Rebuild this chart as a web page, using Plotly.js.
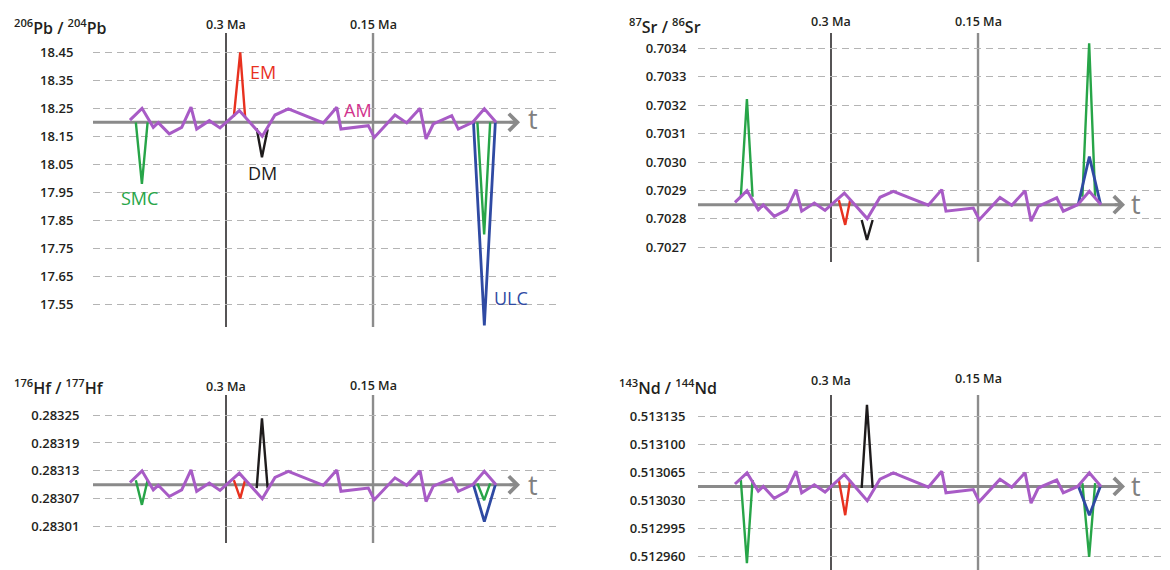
<!DOCTYPE html>
<html><head><meta charset="utf-8">
<script src="https://cdn.plot.ly/plotly-3.0.1.min.js"></script>
<style>html,body{margin:0;padding:0;background:#fff}#chart{width:1170px;height:570px}</style>
</head><body><div id="chart"></div>
<script>
// ---------- DATA ----------
// time (Ma) of the AM (ambient mantle) vertices, shared by all panels
const tAM = [0.3980,0.3857,0.3742,0.3691,0.3579,0.3452,0.3357,0.3299,0.3170,0.3061,0.2864,0.2630,0.2500,0.2364,0.2007,0.1870,0.1827,0.1548,0.1487,0.1276,0.1156,0.1020,0.0959,0.0885,0.0697,0.0630,0.0483,0.0364,0.0245];
const pbAM = [18.208,18.250,18.182,18.199,18.159,18.182,18.254,18.176,18.206,18.180,18.242,18.150,18.226,18.248,18.198,18.254,18.176,18.188,18.146,18.226,18.198,18.250,18.141,18.194,18.224,18.176,18.200,18.248,18.200];
const srAM = [0.702858,0.702899,0.702832,0.702849,0.702809,0.702832,0.702903,0.702827,0.702856,0.702830,0.702891,0.702801,0.702876,0.702897,0.702848,0.702903,0.702827,0.702838,0.702797,0.702875,0.702848,0.702899,0.702792,0.702844,0.702874,0.702827,0.702850,0.702897,0.702850];
const hfAM = [0.283105,0.283130,0.283089,0.283099,0.283075,0.283089,0.283132,0.283086,0.283104,0.283088,0.283125,0.283070,0.283116,0.283129,0.283099,0.283132,0.283086,0.283093,0.283068,0.283115,0.283099,0.283130,0.283064,0.283097,0.283114,0.283086,0.283100,0.283129,0.283100];
const ndAM = [0.513050,0.513064,0.513041,0.513047,0.513032,0.513041,0.513066,0.513039,0.513049,0.513040,0.513062,0.513029,0.513056,0.513064,0.513046,0.513066,0.513039,0.513043,0.513028,0.513056,0.513046,0.513064,0.513026,0.513045,0.513055,0.513039,0.513047,0.513064,0.513047];

// time (Ma) of the end-member excursions (start, tip, end)
const tSMC  = [0.3920,0.3858,0.3800];
const tEM   = [0.2920,0.2855,0.2805];
const tDM   = [0.2687,0.2633,0.2575];
const tULCg = [0.0435,0.0366,0.0305];
const tULCb = [0.0475,0.0364,0.0252];

// 206Pb/204Pb excursions
const pbSMC  = [18.200,17.980,18.200];
const pbEM   = [18.220,18.450,18.220];
const pbDM   = [18.178,18.075,18.175];
const pbULCg = [18.200,17.800,18.200];
const pbULCb = [18.200,17.475,18.200];
// 87Sr/86Sr excursions
const srSMC  = [0.702878,0.703221,0.702878];
const srEM   = [0.702866,0.702779,0.702866];
const srDM   = [0.702796,0.702726,0.702796];
const srULCg = [0.702878,0.703418,0.702878];
const srULCb = [0.702855,0.703019,0.702855];
// 176Hf/177Hf excursions
const hfSMC  = [0.283110,0.283057,0.283110];
const hfEM   = [0.283110,0.283071,0.283110];
const hfDM   = [0.283093,0.283243,0.283093];
const hfULCg = [0.283103,0.283067,0.283103];
const hfULCb = [0.283100,0.283021,0.283100];
// 143Nd/144Nd excursions
const ndSMC  = [0.513055,0.512951,0.513055];
const ndEM   = [0.513055,0.513011,0.513055];
const ndDM   = [0.513045,0.513149,0.513045];
const ndULCg = [0.513051,0.512959,0.513051];
const ndULCb = [0.513047,0.513011,0.513047];

// reference (time-axis) level in each panel
const baseLevels = [18.20, 0.70285, 0.28310, 0.513047];

// tick values / labels
const pbTicks = [17.55,17.65,17.75,17.85,17.95,18.05,18.15,18.25,18.35,18.45];
const pbTickText = ['17.55','17.65','17.75','17.85','17.95','18.05','18.15','18.25','18.35','18.45'];
const srTicks = [0.7027,0.7028,0.7029,0.7030,0.7031,0.7032,0.7033,0.7034];
const srTickText = ['0.7027','0.7028','0.7029','0.7030','0.7031','0.7032','0.7033','0.7034'];
const hfTicks = [0.28301,0.28307,0.28313,0.28319,0.28325];
const hfTickText = ['0.28301','0.28307','0.28313','0.28319','0.28325'];
const ndTicks = [0.512960,0.512995,0.513030,0.513065,0.513100,0.513135];
const ndTickText = ['0.512960','0.512995','0.513030','0.513065','0.513100','0.513135'];

// time markers
const markTimes = [0.3, 0.15];
const markLabels = ['0.3 Ma', '0.15 Ma'];
const titles = ['<sup>206</sup>Pb / <sup>204</sup>Pb', '<sup>87</sup>Sr / <sup>86</sup>Sr',
                '<sup>176</sup>Hf / <sup>177</sup>Hf', '<sup>143</sup>Nd / <sup>144</sup>Nd'];
const memberNames = ['SMC','EM','DM','AM','ULC'];

// ---------- STYLE / LAYOUT ----------
const W = 1170, H = 570;
const px = p => p / W, py = p => 1 - p / H;
const FONT = 'Open Sans, Noto Sans, sans-serif';
const C = {green:'#27a548', red:'#e8311f', black:'#1e1b1c', blue:'#2f4aa3', purple:'#a85bc6',
           amText:'#d2338d', grey:'#8a8a8a', grid:'#b4b4b4', text:'#231f20'};
const xRange = [0.4357, -0.0367];

const panels = [
  {ax:'', xDom:[93,556],  yDom:[33,327],  yRange:[17.469,18.519],   am:pbAM, sp:[pbSMC,pbEM,pbDM,pbULCg,pbULCb], tv:pbTicks, tt:pbTickText, tl:16,
   titlePos:[12,27], markY:[24,24], tPos:[533,119]},
  {ax:'2', xDom:[698,1161], yDom:[33,262], yRange:[0.7026484,0.7034538], am:srAM, sp:[srSMC,srEM,srDM,srULCg,srULCb], tv:srTicks, tt:srTickText, tl:8,
   titlePos:[627,26], markY:[21,21], tPos:[1136,203]},
  {ax:'3', xDom:[93,556],  yDom:[395,543], yRange:[0.282975,0.283293], am:hfAM, sp:[hfSMC,hfEM,hfDM,hfULCg,hfULCb], tv:hfTicks, tt:hfTickText, tl:10,
   titlePos:[12,387], markY:[386,385], tPos:[533,484]},
  {ax:'4', xDom:[698,1161], yDom:[395,570], yRange:[0.5129425,0.51316125], am:ndAM, sp:[ndSMC,ndEM,ndDM,ndULCg,ndULCb], tv:ndTicks, tt:ndTickText, tl:9,
   titlePos:[617,387], markY:[380,378], tPos:[1136,485]}
];

const data = [], shapes = [], annotations = [];
const layout = {width:W, height:H, margin:{l:0,r:0,t:0,b:0}, paper_bgcolor:'#fff', plot_bgcolor:'rgba(0,0,0,0)',
  showlegend:false, font:{family:FONT, color:C.text}};

panels.forEach((p, i) => {
  const xa = 'x' + p.ax, ya = 'y' + p.ax;
  const xKey = 'xaxis' + p.ax, yKey = 'yaxis' + p.ax;
  layout[xKey] = {domain:[px(p.xDom[0]), px(p.xDom[1])], range:xRange, anchor:ya, visible:false, fixedrange:true};
  layout[yKey] = {domain:[py(p.yDom[1]), py(p.yDom[0])], range:p.yRange, anchor:xa,
    tickmode:'array', tickvals:p.tv, ticktext:p.tt, showgrid:true, gridcolor:C.grid, gridwidth:1, griddash:'7px,5px',
    zeroline:false, showline:false, ticks:'outside', ticklen:p.tl, tickcolor:'rgba(0,0,0,0)',
    tickfont:{family:FONT, size:13, color:C.text, weight:600}, fixedrange:true};

  const sp = p.sp;
  const mk = (t, y, color, w) => ({type:'scatter', mode:'lines', x:t, y:y, xaxis:xa, yaxis:ya,
      line:{color:color, width:w}, hoverinfo:'skip'});
  data.push(mk(tSMC, sp[0], C.green, 2.4));
  data.push(mk(tULCg, sp[3], C.green, 2.4));
  data.push(mk(tEM, sp[1], C.red, 2.4));
  data.push(mk(tDM, sp[2], C.black, 2.4));
  data.push(mk(tULCb, sp[4], C.blue, 2.8));
  data.push(mk(tAM, p.am, C.purple, 3));

  // time marker lines
  shapes.push({type:'line', xref:xa, yref:ya + ' domain', x0:markTimes[0], x1:markTimes[0], y0:0, y1:1,
    line:{color:C.black, width:1.5}, layer:'below'});
  shapes.push({type:'line', xref:xa, yref:ya + ' domain', x0:markTimes[1], x1:markTimes[1], y0:0, y1:1,
    line:{color:'#8c8c8c', width:2.4}, layer:'below'});
  // time axis (reference level) with arrow
  shapes.push({type:'line', xref:xa, yref:ya, x0:xRange[0], x1:0.004, y0:baseLevels[i], y1:baseLevels[i],
    line:{color:C.grey, width:3}, layer:'below'});
  annotations.push({xref:xa, yref:ya, axref:xa, ayref:ya, x:0.0, y:baseLevels[i], ax:0.012, ay:baseLevels[i],
    text:'', showarrow:true, arrowhead:4, arrowsize:1.1, arrowwidth:3, arrowcolor:C.grey});
  annotations.push({xref:'paper', yref:'paper', x:px(p.tPos[0]), y:py(p.tPos[1]), text:'t', showarrow:false,
    xanchor:'center', yanchor:'middle', font:{family:FONT, size:27, color:'#808080'}});

  // marker labels
  markTimes.forEach((mt, k) => annotations.push({xref:xa, yref:'paper', x:mt, y:py(p.markY[k]), text:markLabels[k],
    showarrow:false, xanchor:'center', yanchor:'middle', font:{family:FONT, size:12.5, color:C.text, weight:600}}));
  // y title
  annotations.push({xref:'paper', yref:'paper', x:px(p.titlePos[0]), y:py(p.titlePos[1]), text:titles[i],
    showarrow:false, xanchor:'left', yanchor:'middle', font:{family:FONT, size:16, color:C.text, weight:600}});
});

// end-member labels (first panel)
const memberLabelPos = [[139.5,197.5,C.green],[263,71.5,C.red],[262,173.5,C.black],[358,109.5,C.amText],[511,298,C.blue]];
memberNames.forEach((n, k) => {
  const m = memberLabelPos[k];
  annotations.push({xref:'paper', yref:'paper', x:px(m[0]), y:py(m[1]), text:n, showarrow:false,
    xanchor:'center', yanchor:'middle', font:{family:FONT, size:18, color:m[2]}});
});

layout.shapes = shapes;
layout.annotations = annotations;
Plotly.newPlot('chart', data, layout, {displayModeBar:false, staticPlot:true});
</script></body></html>
